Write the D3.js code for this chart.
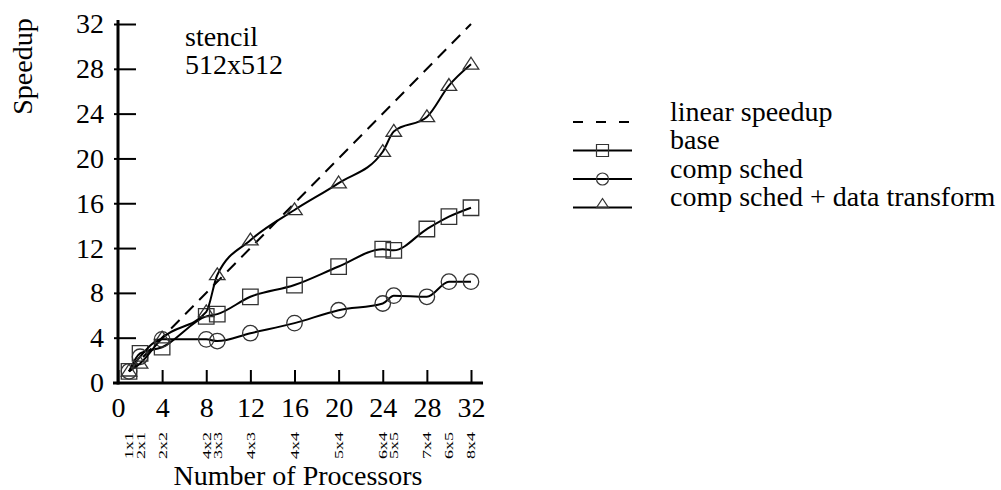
<!DOCTYPE html>
<html>
<head>
<meta charset="utf-8">
<script src="https://cdn.jsdelivr.net/npm/d3@7"></script>
<style>
  body { margin: 0; background: #fff; }
  svg text { font-family: "Liberation Serif", Tinos, "Times New Roman", Times, "DejaVu Serif", serif; fill: #000; }
</style>
</head>
<body>
<script>
// data
var procs = [1, 2, 4, 8, 9, 12, 16, 20, 24, 25, 28, 30, 32];
var gridShapes = ["1x1", "2x1", "2x2", "4x2", "3x3", "4x3", "4x4", "5x4", "6x4", "5x5", "7x4", "6x5", "8x4"];
var baseSpeedup = [1.0, 2.6, 3.15, 5.9, 6.1, 7.65, 8.7, 10.35, 11.9, 11.8, 13.7, 14.8, 15.6];
var compSched = [1.0, 2.3, 3.85, 3.85, 3.7, 4.4, 5.3, 6.45, 7.05, 7.75, 7.65, 9.0, 9.0];
var compSchedData = [1.0, 1.7, 3.95, 6.3, 9.6, 12.7, 15.4, 17.8, 20.6, 22.4, 23.7, 26.5, 28.4];
var linearProcs = [1, 32];
var xTicks = [0, 4, 8, 12, 16, 20, 24, 28, 32];
var yTicks = [0, 4, 8, 12, 16, 20, 24, 28, 32];
var legendLabels = ["linear speedup", "base", "comp sched", "comp sched + data transform"];

var svg = d3.select("body").append("svg")
    .attr("width", 1001)
    .attr("height", 490);

var xScale = d3.scaleLinear().domain([0, 32]).range([118, 471]);
var yScale = d3.scaleLinear().domain([0, 32]).range([382.5, 24]);

// axes
var yAxis = d3.axisLeft(yScale).tickValues(yTicks).tickSize(-18).tickPadding(14);
var gy = svg.append("g").attr("transform", "translate(118,0)").call(yAxis);
gy.attr("font-family", null);
gy.select(".domain").remove();
gy.selectAll(".tick line").attr("x1", -4).attr("stroke", "#000").attr("stroke-width", 2);
gy.selectAll(".tick text").attr("font-size", 28);

var xAxis = d3.axisBottom(xScale).tickValues(xTicks).tickSize(-13).tickPadding(14);
var gx = svg.append("g").attr("transform", "translate(0,383)").call(xAxis);
gx.attr("font-family", null);
gx.select(".domain").remove();
gx.selectAll(".tick line").attr("stroke", "#000").attr("stroke-width", 2);
gx.selectAll(".tick text").attr("font-size", 28);

svg.append("line").attr("x1", 118).attr("x2", 118).attr("y1", 20).attr("y2", 384.5)
    .attr("stroke", "#000").attr("stroke-width", 3);
svg.append("line").attr("x1", 113).attr("x2", 483).attr("y1", 383).attr("y2", 383)
    .attr("stroke", "#000").attr("stroke-width", 3);

// processor grid labels under the axis
svg.selectAll(".grid-label")
    .data(procs)
    .enter()
    .append("text")
    .attr("class", "grid-label")
    .attr("transform", function(d) { return "translate(" + xScale(d) + ",432) rotate(-90) scale(1,0.7)"; })
    .attr("text-anchor", "end")
    .attr("dominant-baseline", "central")
    .attr("font-size", 18)
    .text(function(d, i) { return gridShapes[i]; });

svg.append("text").text("Number of Processors")
    .attr("x", 298).attr("y", 485).attr("text-anchor", "middle").attr("font-size", 28);
svg.append("text").text("Speedup")
    .attr("transform", "translate(32,66.5) rotate(-90)")
    .attr("text-anchor", "middle").attr("font-size", 28);
svg.append("text").text("stencil").attr("x", 185).attr("y", 46).attr("font-size", 28);
svg.append("text").text("512x512").attr("x", 185).attr("y", 74).attr("font-size", 28);

// lines
var line = d3.line()
    .x(function(d) { return xScale(d[0]); })
    .y(function(d) { return yScale(d[1]); })
    .curve(d3.curveMonotoneX);

svg.append("path")
    .attr("d", d3.line()(linearProcs.map(function(p) { return [xScale(p), yScale(p)]; })))
    .attr("fill", "none").attr("stroke", "#000").attr("stroke-width", 2)
    .attr("stroke-dasharray", "12,8");

var series = [
    { values: baseSpeedup, marker: "square" },
    { values: compSched, marker: "circle" },
    { values: compSchedData, marker: "triangle" }
];

function markerPath(type, s) {
    if (type === "square") {
        return "M" + (-s / 2) + "," + (-s / 2) + "h" + s + "v" + s + "h" + (-s) + "Z";
    }
    if (type === "triangle") {
        var h = s * 0.76;
        return "M0," + (-h * 0.6) + "L" + (s / 2) + "," + (h * 0.4) + "L" + (-s / 2) + "," + (h * 0.4) + "Z";
    }
    var r = s / 2;
    return "M" + (-r) + ",0a" + r + "," + r + " 0 1,0 " + (2 * r) + ",0a" + r + "," + r + " 0 1,0 " + (-2 * r) + ",0Z";
}

series.forEach(function(s) {
    var pts = procs.map(function(p, i) { return [p, s.values[i]]; });
    svg.append("path")
        .attr("d", line(pts))
        .attr("fill", "none").attr("stroke", "#000").attr("stroke-width", 2);
    svg.selectAll(null)
        .data(pts)
        .enter()
        .append("path")
        .attr("transform", function(d) { return "translate(" + xScale(d[0]) + "," + yScale(d[1]) + ")"; })
        .attr("d", markerPath(s.marker, 15.5))
        .attr("fill", "none").attr("stroke", "#333").attr("stroke-width", 1.3);
});

// legend
var legendMarkers = [null, "square", "circle", "triangle"];
legendLabels.forEach(function(label, i) {
    var ly = 122 + i * 28.5;
    var g = svg.append("g");
    g.append("line").attr("x1", 573).attr("x2", 632).attr("y1", ly).attr("y2", ly)
        .attr("stroke", "#000").attr("stroke-width", 2)
        .attr("stroke-dasharray", i === 0 ? "10,13" : null);
    if (legendMarkers[i]) {
        var dy = legendMarkers[i] === "triangle" ? -3.5 : 0;
        g.append("path")
            .attr("transform", "translate(602.5," + (ly + dy) + ")")
            .attr("d", markerPath(legendMarkers[i], 12))
            .attr("fill", "none").attr("stroke", "#333").attr("stroke-width", 1.2);
    }
    g.append("text").text(label).attr("x", 670).attr("y", ly - 1.5).attr("font-size", 28);
});
</script>
</body>
</html>
